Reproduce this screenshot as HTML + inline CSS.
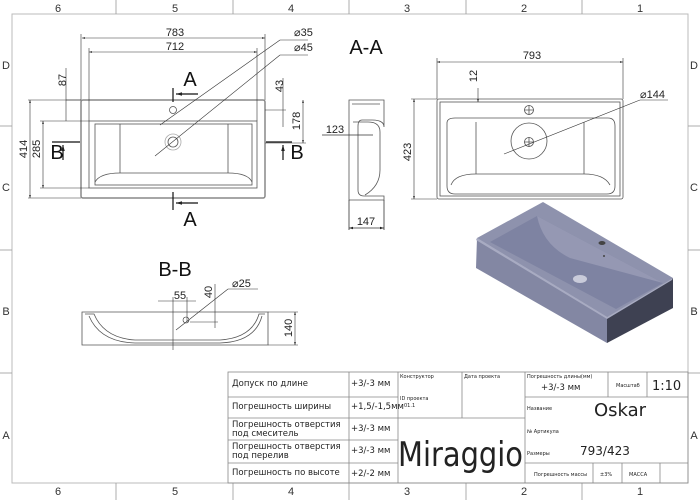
<!DOCTYPE html>
<html><head><meta charset="utf-8"><style>
body{margin:0;background:#fff}
svg{display:block;font-family:"Liberation Sans",sans-serif}
</style></head><body>
<svg width="700" height="500" viewBox="0 0 700 500" xmlns="http://www.w3.org/2000/svg">
<defs>
<marker id="ar" viewBox="0 0 10 10" refX="10" refY="5" markerWidth="6" markerHeight="5" orient="auto-start-reverse"><path d="M0,2 L10,5 L0,8z" fill="#222"/></marker>
</defs>
<rect width="700" height="500" fill="#fff"/>
<!-- frame -->
<rect x="12" y="14" width="676" height="469" fill="none" stroke="#bbb" stroke-width="1"/>
<g stroke="#999" stroke-width="0.8">
<line x1="116" y1="0" x2="116" y2="14"/><line x1="233" y1="0" x2="233" y2="14"/><line x1="349" y1="0" x2="349" y2="14"/><line x1="466" y1="0" x2="466" y2="14"/><line x1="582" y1="0" x2="582" y2="14"/>
<line x1="116" y1="483" x2="116" y2="500"/><line x1="233" y1="483" x2="233" y2="500"/><line x1="349" y1="483" x2="349" y2="500"/><line x1="466" y1="483" x2="466" y2="500"/><line x1="582" y1="483" x2="582" y2="500"/>
<line x1="0" y1="126" x2="12" y2="126"/><line x1="0" y1="250" x2="12" y2="250"/><line x1="0" y1="373" x2="12" y2="373"/>
<line x1="688" y1="126" x2="700" y2="126"/><line x1="688" y1="250" x2="700" y2="250"/><line x1="688" y1="373" x2="700" y2="373"/>
</g>
<g font-size="11" fill="#333" text-anchor="middle">
<text x="58" y="12">6</text><text x="175" y="12">5</text><text x="291" y="12">4</text><text x="407" y="12">3</text><text x="524" y="12">2</text><text x="640" y="12">1</text>
<text x="58" y="495">6</text><text x="175" y="495">5</text><text x="291" y="495">4</text><text x="407" y="495">3</text><text x="524" y="495">2</text><text x="640" y="495">1</text>
<text x="6" y="69">D</text><text x="6" y="191">C</text><text x="6" y="315">B</text><text x="6" y="439">A</text>
<text x="694" y="69">D</text><text x="694" y="191">C</text><text x="694" y="315">B</text><text x="694" y="439">A</text>
</g>

<!-- top-left plan view -->
<g fill="none" stroke="#555" stroke-width="0.8">
<rect x="81" y="100" width="184" height="98" rx="2" stroke="#888" stroke-width="1.5"/>
<rect x="89" y="121" width="168" height="67"/>
<rect x="95" y="124" width="157" height="61"/>
<line x1="120" y1="124" x2="120" y2="173"/><line x1="228" y1="124" x2="228" y2="173"/>
<path d="M95,182 Q100,173 120,173 L228,173 Q248,173 252,182"/>
<circle cx="173" cy="110" r="3.5"/>
<circle cx="173" cy="142" r="5"/><circle cx="173" cy="142" r="8" stroke="#aaa"/>
</g>
<g stroke="#333" stroke-width="0.6" fill="none">
<line x1="82" y1="38" x2="265" y2="38" marker-start="url(#ar)" marker-end="url(#ar)"/>
<line x1="89" y1="52" x2="257" y2="52" marker-start="url(#ar)" marker-end="url(#ar)"/>
<line x1="81" y1="34" x2="81" y2="100"/><line x1="265" y1="34" x2="265" y2="100"/>
<line x1="89" y1="48" x2="89" y2="121"/><line x1="257" y1="48" x2="257" y2="121"/>
<line x1="66" y1="100" x2="81" y2="100"/><line x1="28" y1="100" x2="81" y2="100"/><line x1="28" y1="198" x2="81" y2="198"/>
<line x1="40" y1="121" x2="89" y2="121"/><line x1="40" y1="188" x2="89" y2="188"/>
<line x1="30" y1="100" x2="30" y2="198" marker-start="url(#ar)" marker-end="url(#ar)"/>
<line x1="43" y1="121" x2="43" y2="188" marker-start="url(#ar)" marker-end="url(#ar)"/>
<line x1="66" y1="68" x2="66" y2="121" />
<line x1="283" y1="78" x2="283" y2="127"/>
<line x1="265" y1="110" x2="286" y2="110"/><line x1="265" y1="143" x2="306" y2="143"/>
<line x1="303" y1="100" x2="303" y2="143" marker-start="url(#ar)" marker-end="url(#ar)"/>
<line x1="160" y1="125" x2="280" y2="40"/><line x1="280" y1="40" x2="308" y2="40"/>
<line x1="155" y1="156" x2="280" y2="55"/><line x1="280" y1="55" x2="308" y2="55"/>
</g>
<g stroke="#111" stroke-width="1.2">
<line x1="173" y1="88" x2="173" y2="102"/><line x1="173" y1="192" x2="173" y2="210"/>
<line x1="52" y1="142" x2="80" y2="142"/><line x1="266" y1="142" x2="292" y2="142"/>
<line x1="176" y1="94" x2="198" y2="94" marker-start="url(#ar)"/>
<line x1="176" y1="203" x2="198" y2="203" marker-start="url(#ar)"/>
<line x1="63" y1="145" x2="63" y2="160" marker-start="url(#ar)"/>
<line x1="283" y1="145" x2="283" y2="160" marker-start="url(#ar)"/>
</g>
<g font-size="11" fill="#222" text-anchor="middle">
<text x="175" y="36">783</text><text x="175" y="50">712</text>
<text x="294" y="36" text-anchor="start">⌀35</text><text x="294" y="51" text-anchor="start">⌀45</text>
<text transform="translate(66,80) rotate(-90)">87</text>
<text transform="translate(283,86) rotate(-90)">43</text>
<text transform="translate(300,121) rotate(-90)">178</text>
<text transform="translate(27,149) rotate(-90)">414</text>
<text transform="translate(40,149) rotate(-90)">285</text>
</g>
<g font-size="20" fill="#111" text-anchor="middle">
<text x="190" y="86">A</text><text x="190" y="226">A</text>
<text x="57" y="159">B</text><text x="297" y="159">B</text>
<text x="366" y="54">A-A</text>
<text x="175" y="276">B-B</text>
</g>

<!-- A-A section -->
<g fill="none" stroke="#555" stroke-width="0.8">
<path d="M349,100 L384,100 L384,127 Q384,120 372,120 L362,120 Q358,120 358,126 L358,190 Q358,196 364,196 L384,196 L384,200 L349,200 Z"/>
<path d="M352,104 L380,104 M353,122 L368,122 Q380,122 380,132 L380,170 Q380,186 365,195"/>
<line x1="349" y1="228" x2="384" y2="228" stroke="#333" marker-start="url(#ar)" marker-end="url(#ar)"/>
<line x1="349" y1="200" x2="349" y2="230" stroke="#333"/><line x1="384" y1="200" x2="384" y2="230" stroke="#333"/>
<line x1="322" y1="135" x2="373" y2="135" stroke="#333"/>
</g>
<text x="335" y="133" font-size="11" text-anchor="middle" fill="#222">123</text>
<text x="366" y="225" font-size="11" text-anchor="middle" fill="#222">147</text>

<!-- right plan -->
<g fill="none" stroke="#555" stroke-width="0.8">
<rect x="437" y="99" width="186" height="100" rx="2"/>
<rect x="440" y="102" width="180" height="94"/>
<path d="M447,123 Q447,118 455,118 L608,118 Q615,118 615,126 L615,186 Q615,194 607,194 L455,194 Q447,194 447,186 Z"/>
<line x1="476" y1="122" x2="476" y2="174"/><line x1="584" y1="122" x2="584" y2="174"/>
<path d="M451,185 Q455,174 476,174 L584,174 Q604,174 610,185"/>
<circle cx="529" cy="141" r="18"/>
<circle cx="529" cy="142" r="4.5"/><circle cx="529" cy="110" r="4.5"/>
<path d="M529,137 v10 M524,142 h10 M529,105 v10 M524,110 h10"/>
</g>
<g stroke="#333" stroke-width="0.6" fill="none">
<line x1="437" y1="62" x2="623" y2="62" marker-start="url(#ar)" marker-end="url(#ar)"/>
<line x1="437" y1="58" x2="437" y2="99"/><line x1="623" y1="58" x2="623" y2="99"/>
<line x1="411" y1="99" x2="437" y2="99"/><line x1="411" y1="199" x2="437" y2="199"/>
<line x1="414" y1="99" x2="414" y2="199" marker-start="url(#ar)" marker-end="url(#ar)"/>
<line x1="478" y1="88" x2="478" y2="102" marker-end="url(#ar)"/>
<line x1="504" y1="154" x2="640" y2="100"/><line x1="640" y1="100" x2="668" y2="100"/>
</g>
<g font-size="11" fill="#222" text-anchor="middle">
<text x="532" y="59">793</text>
<text transform="translate(477,76) rotate(-90)">12</text>
<text transform="translate(411,152) rotate(-90)">423</text>
<text x="640" y="98" text-anchor="start">⌀144</text>
</g>

<!-- 3D -->
<polygon points="543,202 477,238 607,317 673,278" fill="#8e92ad"/>
<polygon points="477,238 476,268 607,343 607,317" fill="#8387a3"/>
<polygon points="607,317 607,343 673,308 673,278" fill="#3e4152"/>
<polygon points="490,242 537,216 663,283 616,309" fill="#7e83a2"/>
<path d="M537,216 Q543,245 570,258 L663,283 L537,216Z" fill="#9598b3"/>
<polygon points="477,238 607,317 673,278 672,280 607,319 476,240" fill="#a8abc2"/>
<ellipse cx="580" cy="279" rx="7" ry="4" fill="#c9cbda"/>
<ellipse cx="602" cy="243" rx="3.5" ry="2" fill="#444"/>
<circle cx="604" cy="256" r="1" fill="#444"/>

<!-- B-B -->
<g fill="none" stroke="#555" stroke-width="0.8">
<path d="M82,312 L268,312 L268,345 L82,345 Z"/>
<path d="M85,314 L94,314 Q104,338 135,340 L220,340 Q252,338 259,314 L265,314"/>
<path d="M89,316 Q100,342 135,343 L220,343 Q255,342 262,316"/>
</g>
<g stroke="#333" stroke-width="0.6" fill="none">
<line x1="158" y1="301" x2="196" y2="301" />
<line x1="173" y1="297" x2="173" y2="350"/><line x1="187" y1="297" x2="187" y2="322"/>
<line x1="215" y1="284" x2="215" y2="328" />
<line x1="190" y1="322" x2="218" y2="322"/>
<line x1="268" y1="312" x2="298" y2="312"/><line x1="268" y1="345" x2="298" y2="345"/>
<line x1="295" y1="312" x2="295" y2="345" marker-start="url(#ar)" marker-end="url(#ar)"/>
<line x1="176" y1="330" x2="228" y2="289"/><line x1="228" y1="289" x2="258" y2="289"/>
<circle cx="186" cy="320" r="3"/>
</g>
<g font-size="11" fill="#222" text-anchor="middle">
<text x="180" y="299">55</text>
<text transform="translate(212,292) rotate(-90)">40</text>
<text x="232" y="287" text-anchor="start">⌀25</text>
<text transform="translate(292,328) rotate(-90)">140</text>
</g>

<!-- title block -->
<g stroke="#888" stroke-width="0.8" fill="none">
<rect x="228" y="372" width="460" height="111"/>
<line x1="228" y1="397" x2="398" y2="397"/><line x1="228" y1="418" x2="398" y2="418"/><line x1="228" y1="440" x2="398" y2="440"/><line x1="228" y1="463" x2="398" y2="463"/>
<line x1="349" y1="372" x2="349" y2="483"/><line x1="398" y1="372" x2="398" y2="483"/>
<line x1="462" y1="372" x2="462" y2="418"/><line x1="398" y1="418" x2="525" y2="418"/>
<line x1="525" y1="372" x2="525" y2="483"/>
<line x1="525" y1="397" x2="688" y2="397"/><line x1="525" y1="463" x2="688" y2="463"/>
<line x1="608" y1="372" x2="608" y2="397"/><line x1="647" y1="372" x2="647" y2="397"/>
<line x1="593" y1="463" x2="593" y2="483"/><line x1="622" y1="463" x2="622" y2="483"/><line x1="660" y1="463" x2="660" y2="483"/>
</g>
<g font-family="'DejaVu Sans','Liberation Sans',sans-serif" fill="#222">
<g font-size="8.5">
<text x="232" y="386">Допуск по длине</text>
<text x="232" y="409">Погрешность ширины</text>
<text x="232" y="427">Погрешность отверстия</text><text x="232" y="436">под смеситель</text>
<text x="232" y="449">Погрешность отверстия</text><text x="232" y="458">под перелив</text>
<text x="232" y="475">Погрешность по высоте</text>
<text x="351" y="386">+3/-3 мм</text>
<text x="351" y="409">+1,5/-1,5мм</text>
<text x="351" y="431">+3/-3 мм</text>
<text x="351" y="453">+3/-3 мм</text>
<text x="351" y="476">+2/-2 мм</text>
<text x="541" y="390">+3/-3 мм</text>
</g>
<g font-size="5">
<text x="400" y="378">Конструктор</text><text x="464" y="378">Дата проекта</text>
<text x="400" y="400">ID проекта</text><text x="404" y="407">01.1</text>
<text x="527" y="378">Погрешность длины(мм)</text>
<text x="616" y="387">Масштаб</text>
<text x="527" y="410">Название</text>
<text x="527" y="433">№ Артикула</text>
<text x="527" y="455">Размеры</text>
<text x="534" y="476">Погрешность массы</text>
<text x="600" y="476">±3%</text>
<text x="629" y="476">МАССА</text>
</g>
<text x="652" y="390" font-size="13">1:10</text>
<text x="594" y="416" font-size="18">Oskar</text>
<text x="580" y="455" font-size="12">793/423</text>
<text x="398" y="466" font-size="34" textLength="125" lengthAdjust="spacingAndGlyphs">Miraggio</text>
</g>
</svg>
</body></html>
